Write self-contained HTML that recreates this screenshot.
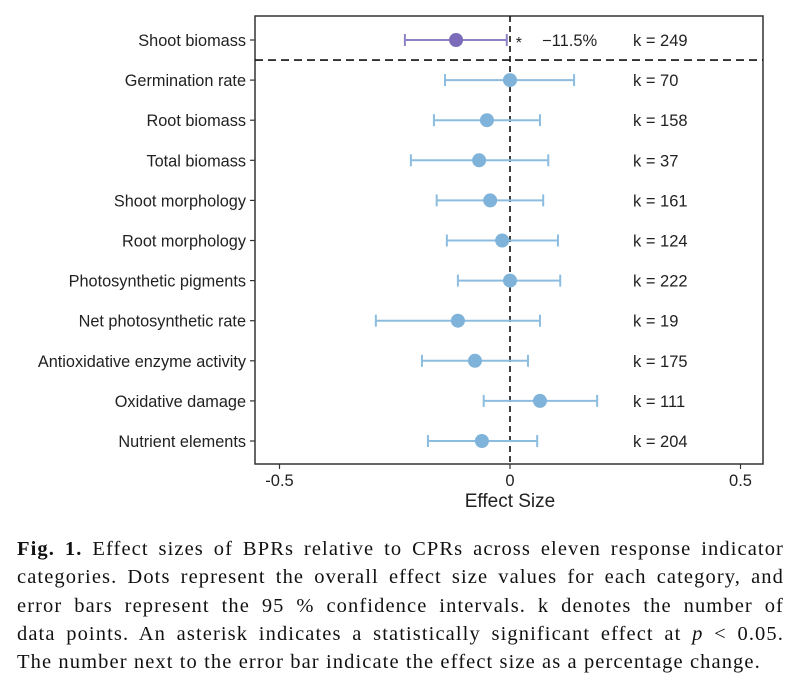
<!DOCTYPE html>
<html><head><meta charset="utf-8"><style>
body{margin:0;background:#fff;width:801px;height:684px;overflow:hidden;position:relative}
#cap{position:absolute;left:17px;top:535px;width:767px;font-family:"Liberation Serif",serif;font-size:20.5px;line-height:28.3px;color:#111;letter-spacing:1.1px}
#cap div{text-align:justify;text-align-last:justify;white-space:nowrap;overflow:visible}
#cap div.last{text-align-last:left}
</style></head><body>
<svg id="chart" width="801" height="530" style="position:absolute;left:0;top:0" font-family="Liberation Sans, sans-serif"></svg>
<div id="cap">
<div style="white-space:normal"><b>Fig. 1.</b> Effect sizes of BPRs relative to CPRs across eleven response indicator</div>
<div style="white-space:normal">categories. Dots represent the overall effect size values for each category, and</div>
<div style="white-space:normal">error bars represent the 95 % confidence intervals. k denotes the number of</div>
<div style="white-space:normal">data points. An asterisk indicates a statistically significant effect at <i>p</i> &lt; 0.05.</div>
<div class="last">The number next to the error bar indicate the effect size as a percentage change.</div>
</div>
<script>
const categories=["Shoot biomass","Germination rate","Root biomass","Total biomass","Shoot morphology","Root morphology","Photosynthetic pigments","Net photosynthetic rate","Antioxidative enzyme activity","Oxidative damage","Nutrient elements"];
const effects=[-0.117,0,-0.05,-0.067,-0.043,-0.017,0,-0.113,-0.076,0.065,-0.061];
const lower=[-0.228,-0.141,-0.165,-0.215,-0.159,-0.137,-0.113,-0.291,-0.191,-0.057,-0.178];
const upper=[-0.007,0.139,0.065,0.083,0.072,0.104,0.109,0.065,0.039,0.189,0.059];
const kValues=[249,70,158,37,161,124,222,19,175,111,204];
const pctLabels=["−11.5%","","","","","","","","","",""];
const sigLabels=["*","","","","","","","","","",""];
const xTicks=[-0.5,0,0.5];
const xTickLabels=["-0.5","0","0.5"];
const svg=document.getElementById('chart');
const NS='http://www.w3.org/2000/svg';
const L=255,R=763,T=16,B=464;
const x=v=>510+v*461;
const y=i=>40+i*40.1;
function mk(t,a,txt){const e=document.createElementNS(NS,t);for(const k in a)e.setAttribute(k,a[k]);if(txt!==undefined)e.textContent=txt;svg.appendChild(e);return e;}
let e=mk('rect',{x:L,y:T,width:R-L,height:B-T,fill:'none',stroke:'#333','stroke-width':1.5});

e=mk('line',{x1:x(0),x2:x(0),y1:T,y2:B,stroke:'#111','stroke-width':1.6,'stroke-dasharray':'6,4'});

e=mk('line',{x1:L,x2:R,y1:(y(0)+y(1))/2,y2:(y(0)+y(1))/2,stroke:'#111','stroke-width':1.6,'stroke-dasharray':'8,5'});

xTicks.forEach((t,i)=>{
 e=mk('line',{x1:x(t),x2:x(t),y1:B,y2:B+5,stroke:'#333','stroke-width':1.2});
 
 e=mk('text',{x:x(t),y:B+22,'text-anchor':'middle','font-size':16.5,fill:'#222'},xTickLabels[i]);
 
});
e=mk('text',{x:x(0),y:B+43,'text-anchor':'middle','font-size':19,fill:'#222'},'Effect Size');

categories.forEach((c,i)=>{
 const yy=y(i),col=i===0?'#7b6bb8':'#7fb3d9',lc=i===0?'#8f82c4':'#8cbde0';
 e=mk('line',{x1:L-5,x2:L,y1:yy,y2:yy,stroke:'#333','stroke-width':1.2});
 
 e=mk('text',{x:L-9,y:yy+6,'text-anchor':'end','font-size':16.3,fill:'#222'},c);
 
 e=mk('line',{x1:x(lower[i]),x2:x(upper[i]),y1:yy,y2:yy,stroke:lc,'stroke-width':2});
 
 [lower[i],upper[i]].forEach(v=>{e=mk('line',{x1:x(v),x2:x(v),y1:yy-6,y2:yy+6,stroke:lc,'stroke-width':2});
 });
 e=mk('circle',{cx:x(effects[i]),cy:yy,r:7,fill:col});
 
 e=mk('text',{x:633,y:yy+6,'font-size':16.5,fill:'#222'},'k = '+kValues[i]);
 
 if(sigLabels[i]){e=mk('text',{x:x(upper[i])+9,y:yy+8,'font-size':16,fill:'#222'},sigLabels[i]);
 }
 if(pctLabels[i]){e=mk('text',{x:542,y:yy+6,'font-size':16.5,fill:'#222'},pctLabels[i]);
 }
});
</script>
</body></html>
